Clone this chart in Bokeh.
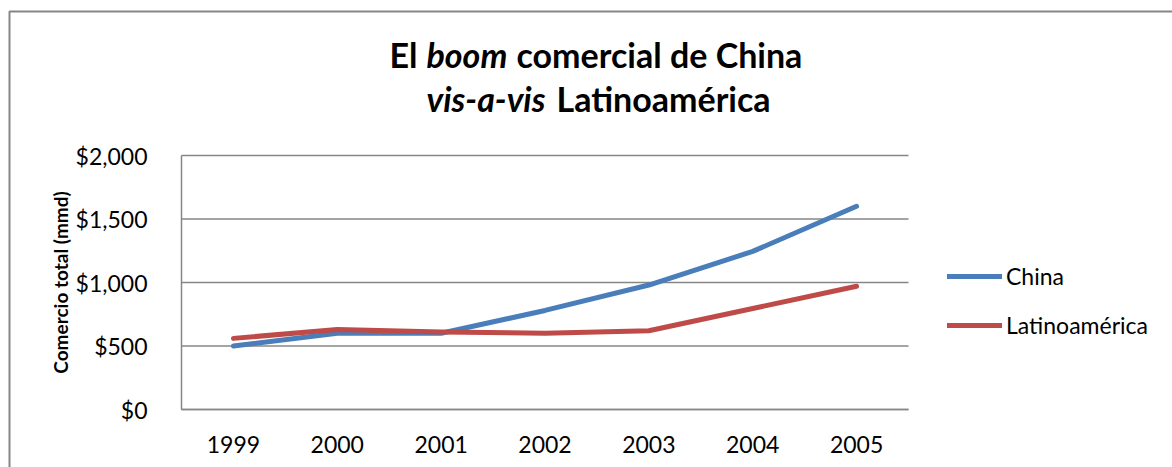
from bokeh.plotting import figure
from bokeh.models import (Range1d, NumeralTickFormatter, Legend, LegendItem,
                          Label, FixedTicker, LinearAxis)
from bokeh.embed import file_html
from bokeh.resources import INLINE

# ---- data ----
years = [1999, 2000, 2001, 2002, 2003, 2004, 2005]
china = [500, 600, 600, 780, 980, 1245, 1600]
latam = [560, 630, 610, 600, 620, 795, 970]
y_ticks = [0, 500, 1000, 1500, 2000]
series_names = ["China", "Latinoamérica"]
y_label = "Comercio total (mmd)"

FONT = "Lato"
GRID = "#868686"
BLUE = "#4A7EBB"
RED = "#BE4B48"

# ---- layout (canvas pixels) ----
W, H = 1172, 467
PL, PR, PT, PB = 181, 908, 155, 409          # plot area edges
x_lo, x_hi = years[0] - 0.5, years[-1] + 0.5
y_lo, y_hi = y_ticks[0], y_ticks[-1]
xs = (PR - PL) / (x_hi - x_lo)
ys = (PB - PT) / (y_hi - y_lo)
X0, X1 = x_lo - PL / xs, x_hi + (W - PR) / xs
Y0, Y1 = y_lo - (H - PB) / ys, y_hi + PT / ys


def fx(px):
    return X0 + px / xs


def fy(py):
    return Y1 - py / ys


p = figure(width=W, height=H, x_range=Range1d(X0, X1), y_range=Range1d(Y0, Y1),
           output_backend="svg", toolbar_location=None,
           x_axis_location=None, y_axis_location=None, min_border=0)
p.outline_line_color = None
p.background_fill_color = "white"
p.border_fill_color = "white"
p.grid.visible = False

# outer chart border (only its left and top edges fall inside the canvas)
p.line(x=[fx(9), fx(9), fx(W + 50)], y=[fy(H + 50), fy(11), fy(11)],
       line_color=GRID, line_width=2)

# gridlines across the plot area only
p.segment(x0=[x_lo] * len(y_ticks), x1=[x_hi] * len(y_ticks), y0=y_ticks, y1=y_ticks,
          line_color=GRID, line_width=1.5)

xax = LinearAxis(fixed_location=y_lo, bounds=(x_lo, x_hi), ticker=FixedTicker(ticks=years))
xax.major_tick_line_color = None
xax.minor_tick_line_color = None
xax.axis_line_color = GRID
xax.axis_line_width = 1.5
xax.major_label_standoff = 20
xax.major_label_text_font = FONT
xax.major_label_text_font_size = "23px"
xax.major_label_text_color = "black"
p.add_layout(xax, "below")

yax = LinearAxis(fixed_location=x_lo, bounds=(y_lo, y_hi), ticker=FixedTicker(ticks=y_ticks))
yax.formatter = NumeralTickFormatter(format="$0,0")
yax.major_tick_line_color = None
yax.minor_tick_line_color = None
yax.axis_line_color = GRID
yax.axis_line_width = 1.5
yax.major_label_standoff = 28
yax.major_label_text_font = FONT
yax.major_label_text_font_size = "23px"
yax.major_label_text_color = "black"
yax.axis_label = y_label
yax.axis_label_text_font = FONT
yax.axis_label_text_font_size = "19px"
yax.axis_label_text_font_style = "bold"
yax.axis_label_text_color = "black"
yax.axis_label_standoff = 1
p.add_layout(yax, "left")

r1 = p.line(years, china, line_color=BLUE, line_width=5, line_cap="round", line_join="round")
r2 = p.line(years, latam, line_color=RED, line_width=5, line_cap="round", line_join="round")

legend = Legend(items=[LegendItem(label=series_names[0], renderers=[r1]),
                       LegendItem(label=series_names[1], renderers=[r2])],
                location=(947, H - 339))
legend.label_text_font = FONT
legend.label_text_font_size = "23px"
legend.label_text_color = "black"
legend.glyph_width = 55
legend.glyph_height = 20
legend.label_standoff = 4
legend.spacing = 21
legend.padding = 0
legend.margin = 0
legend.border_line_color = None
legend.background_fill_alpha = 0
p.add_layout(legend)


# title (mixed bold / bold italic)
def seg(px, py, text, style, align):
    p.add_layout(Label(x=fx(px), y=fy(py), text=text,
                       text_font=FONT, text_font_size="34px", text_font_style=style,
                       text_align=align, text_baseline="middle", text_color="black"))


seg(417, 54, "El", "bold", "right")
seg(426, 54, "boom", "bold italic", "left")
seg(516, 54, "comercial de China", "bold", "left")
seg(426, 98, "vis-a-vis", "bold italic", "left")
seg(556, 98, "Latinoamérica", "bold", "left")

open("out.html", "w").write(file_html(p, INLINE))
